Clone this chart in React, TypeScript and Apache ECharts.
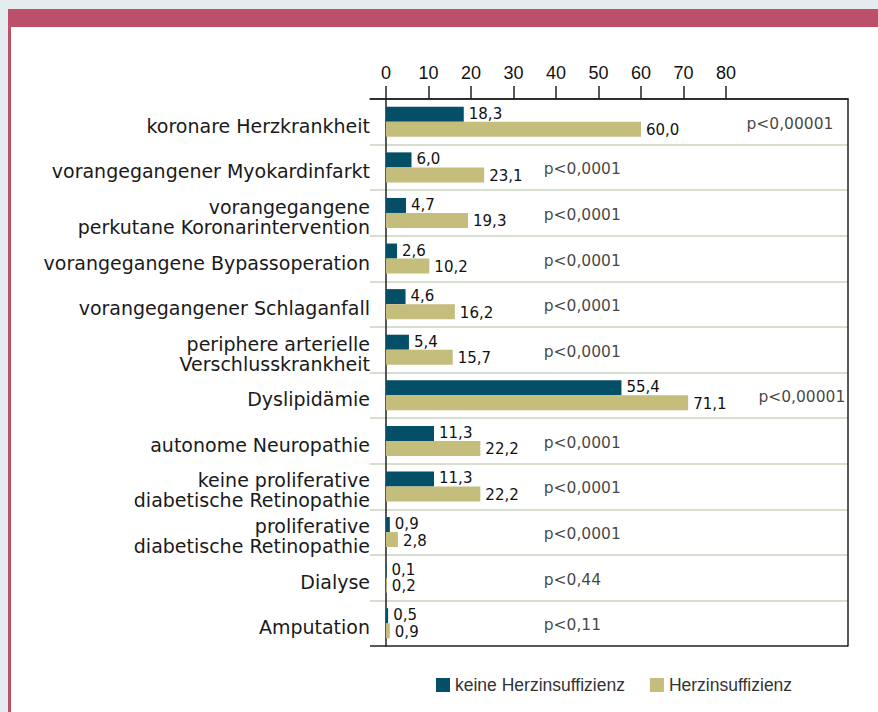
import React, { useEffect, useRef } from "react";
import * as echarts from "echarts";

const categories = [
  "koronare Herzkrankheit",
  "vorangegangener Myokardinfarkt",
  "vorangegangene\nperkutane Koronarintervention",
  "vorangegangene Bypassoperation",
  "vorangegangener Schlaganfall",
  "periphere arterielle\nVerschlusskrankheit",
  "Dyslipidämie",
  "autonome Neuropathie",
  "keine proliferative\ndiabetische Retinopathie",
  "proliferative\ndiabetische Retinopathie",
  "Dialyse",
  "Amputation",
];
const keineHerzinsuffizienz = [18.3, 6.0, 4.7, 2.6, 4.6, 5.4, 55.4, 11.3, 11.3, 0.9, 0.1, 0.5];
const herzinsuffizienz = [60.0, 23.1, 19.3, 10.2, 16.2, 15.7, 71.1, 22.2, 22.2, 2.8, 0.2, 0.9];
const pValues = [
  "p<0,00001",
  "p<0,0001",
  "p<0,0001",
  "p<0,0001",
  "p<0,0001",
  "p<0,0001",
  "p<0,00001",
  "p<0,0001",
  "p<0,0001",
  "p<0,0001",
  "p<0,44",
  "p<0,11",
];
// x position (axis units) where each p-value annotation starts
const pValuePos = [84.7, 37, 37, 37, 37, 37, 87.5, 37, 37, 37, 37, 37];
const tickValues = [0, 10, 20, 30, 40, 50, 60, 70, 80];

const TEAL = "#054e67";
const KHAKI = "#c4bd7b";
const PINK = "#bc506b";

const fmt = (v: number) => v.toFixed(1).replace(".", ",");

export default function App() {
  const ref = useRef<HTMLDivElement>(null);

  useEffect(() => {
    if (!ref.current) return;
    const chart = echarts.init(ref.current, undefined, { renderer: "svg" });
    const pxPerUnit = 4.25;
    const gridLeft = 370;
    const zeroX = 386;
    const rightX = 848;
    const valueLabel = {
      show: true,
      position: "right",
      distance: 5,
      fontFamily: "DejaVu Sans",
      fontSize: 15,
      lineHeight: 15,
      color: "#111",
      formatter: (p: any) => fmt(p.value),
    };
    chart.setOption({
      animation: false,
      grid: { left: gridLeft, right: 878 - rightX, top: 99, bottom: 712 - 646, containLabel: false },
      legend: {
        data: ["keine Herzinsuffizienz", "Herzinsuffizienz"],
        left: 436,
        top: 676,
        padding: 0,
        icon: "rect",
        itemWidth: 14,
        itemHeight: 14,
        itemGap: 25,
        textStyle: { fontFamily: "Liberation Sans", fontSize: 17.5, color: "#333" },
      },
      xAxis: {
        type: "value",
        position: "top",
        min: -(zeroX - gridLeft) / pxPerUnit,
        max: (rightX - zeroX) / pxPerUnit,
        splitLine: { show: false },
        axisLine: { show: true, onZero: false, lineStyle: { color: "#222", width: 1.5 } },
        axisTick: {
          show: true,
          customValues: tickValues,
          length: 13,
          lineStyle: { color: "#222", width: 1.5 },
        },
        axisLabel: {
          customValues: tickValues,
          margin: 17,
          fontFamily: "Liberation Sans",
          fontSize: 18,
          color: "#111",
        },
      },
      yAxis: [
        {
          type: "category",
          inverse: true,
          data: categories,
          axisLine: { show: true, onZero: true, lineStyle: { color: "#222", width: 1.5 } },
          axisTick: { show: false },
          axisLabel: {
            margin: 0,
            color: "#1a1a1a",
            formatter: (v: string) =>
              "{s| }\n" + v.split("\n").map((l) => "{a|" + l + "}").join("\n"),
            rich: {
              s: { fontSize: 1, lineHeight: 8 },
              a: { fontFamily: "DejaVu Sans", fontSize: 19, lineHeight: 20, color: "#1a1a1a", align: "right" },
            },
          },
          splitLine: {
            show: true,
            lineStyle: {
              width: 1.5,
              color: [
                "#222", "#c7d3bf", "#c7d3bf", "#c7d3bf", "#c7d3bf", "#c7d3bf", "#c7d3bf",
                "#c7d3bf", "#c7d3bf", "#c7d3bf", "#c7d3bf", "#c7d3bf", "#222",
              ],
            },
          },
        },
        {
          type: "category",
          inverse: true,
          position: "right",
          data: categories,
          axisLine: { show: true, onZero: false, lineStyle: { color: "#222", width: 1.5 } },
          axisTick: { show: false },
          axisLabel: { show: false },
          splitLine: { show: false },
        },
      ],
      series: [
        {
          name: "keine Herzinsuffizienz",
          type: "bar",
          yAxisIndex: 0,
          data: keineHerzinsuffizienz,
          barWidth: 15,
          barGap: "0%",
          itemStyle: { color: TEAL },
          label: { ...valueLabel, offset: [0, -0.5] },
        },
        {
          name: "Herzinsuffizienz",
          type: "bar",
          yAxisIndex: 0,
          data: herzinsuffizienz,
          barWidth: 15,
          barGap: "0%",
          itemStyle: { color: KHAKI },
          label: { ...valueLabel, offset: [0, 1] },
        },
        {
          name: "p",
          type: "scatter",
          yAxisIndex: 0,
          symbolSize: 1,
          itemStyle: { color: "rgba(0,0,0,0)" },
          silent: true,
          data: pValuePos.map((x, i) => ({ value: [x, i], name: pValues[i] })),
          label: {
            show: true,
            position: "right",
            distance: 0,
            offset: [0, 2],
            fontFamily: "DejaVu Sans",
            fontSize: 15.5,
            color: "#111",
            formatter: (p: any) => p.name,
          },
        },
      ],
    });
    return () => chart.dispose();
  }, []);

  return (
    <div style={{ position: "absolute", left: 0, top: 0, width: 878, height: 712, background: "#e4ecef", overflow: "hidden" }}>
      <div style={{ position: "absolute", left: 8, top: 9, right: 0, height: 18, background: PINK }} />
      <div style={{ position: "absolute", left: 8, top: 27, width: 3, bottom: 0, background: PINK }} />
      <div style={{ position: "absolute", left: 11, top: 27, right: 0, bottom: 0, background: "#fff" }} />
      <div ref={ref} style={{ position: "absolute", left: 0, top: 0, width: 878, height: 712 }} />
    </div>
  );
}
